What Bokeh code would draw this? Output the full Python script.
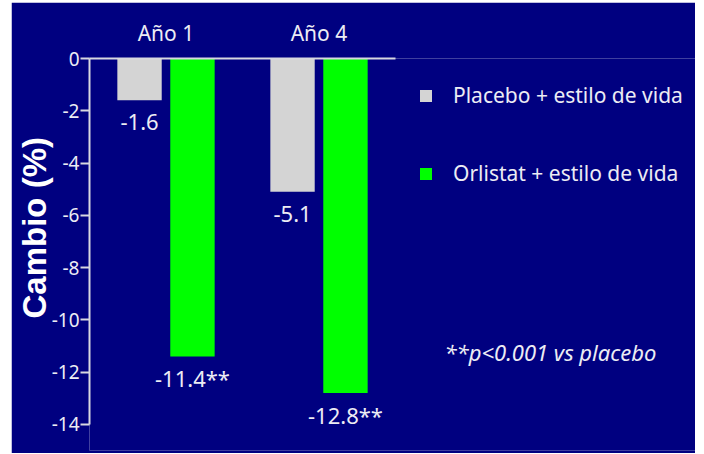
from bokeh.plotting import figure
from bokeh.models import (Range1d, FixedTicker, Legend, LegendItem, Label, Title,
                          ColumnDataSource)
from bokeh.core.properties import value
from bokeh.embed import file_html
from bokeh.resources import INLINE

# Weight change (%) by year of treatment
years = ["Año 1", "Año 4"]
series = ["Placebo + estilo de vida", "Orlistat + estilo de vida"]
placebo = [-1.6, -5.1]
orlistat = [-11.4, -12.8]
signif = ["", "**"]          # suffix per series
y_ticks = [0, -2, -4, -6, -8, -10, -12, -14]
note = "**p<0.001 vs placebo"

NAVY = "#000080"
FG = "#ececf4"
AXIS = "#d8d8e0"
COLORS = ["#d4d4d4", "#00ff00"]
FONT = "Noto Sans"

n = len(years)
frame_w, axis_w = 606, 306          # frame width vs. width used by the groups
bar_w = 0.29
dodge = 0.173

p = figure(width=684, height=451, output_backend="svg", toolbar_location=None,
           x_axis_location="above",
           x_range=Range1d(0, n * frame_w / axis_w), y_range=Range1d(-15, 0),
           background_fill_color=NAVY, border_fill_color=NAVY,
           min_border_left=78, min_border_right=0, min_border_top=56,
           min_border_bottom=3, outline_line_color=None)
p.margin = (2, 9, 1, 11)
p.grid.visible = False

# x axis on top doubles as the zero line
xa = p.xaxis[0]
xa.bounds = (0, n)
xa.ticker = FixedTicker(ticks=[i + 0.5 for i in range(n)])
xa.major_label_overrides = {i + 0.5: y for i, y in enumerate(years)}
xa.major_tick_out = 0
xa.major_tick_in = 0
xa.minor_tick_line_color = None
xa.axis_line_color = AXIS
xa.axis_line_width = 2
xa.major_label_text_color = FG
xa.major_label_text_font = FONT
xa.major_label_text_font_size = "21px"
xa.major_label_standoff = 12

ya = p.yaxis[0]
ya.bounds = (min(y_ticks), 0)
ya.ticker = FixedTicker(ticks=y_ticks)
ya.major_label_overrides = {t: str(t) for t in y_ticks}
ya.major_tick_out = 9
ya.major_tick_in = 0
ya.major_tick_line_color = AXIS
ya.major_tick_line_width = 2
ya.minor_tick_line_color = None
ya.axis_line_color = AXIS
ya.axis_line_width = 2
ya.major_label_text_color = FG
ya.major_label_text_font = FONT
ya.major_label_text_font_size = "19px"
ya.major_label_standoff = 1

p.add_layout(Title(text="Cambio (%)", align="left", offset=132, standoff=-8,
                   text_font="Liberation Sans", text_font_style="bold",
                   text_font_size="33px", text_color="white"), "left")

renderers = []
for k, (vals, color) in enumerate(zip([placebo, orlistat], COLORS)):
    xs = [i + 0.5 + (dodge if k else -dodge) for i in range(n)]
    src = ColumnDataSource(dict(
        x=xs, v=vals,
        lab=[f"{v:.1f}{signif[k]}" for v in vals]))
    r = p.vbar(x="x", top=0, bottom="v", width=bar_w, source=src,
               fill_color=color, line_color=None)
    renderers.append(r)
    p.text(x="x", y="v", text="lab", source=src, y_offset=22,
           text_align="center", text_baseline="middle",
           text_font=value(FONT), text_font_size="22px", text_color=FG)

legend = Legend(items=[LegendItem(label=s, renderers=[r])
                       for s, r in zip(series, renderers)],
                location=(329, 263), padding=0, margin=0, spacing=50,
                glyph_width=15, glyph_height=15, label_height=15,
                label_standoff=20, label_text_font=FONT,
                label_text_font_size="21px", label_text_color=FG,
                background_fill_alpha=0, border_line_alpha=0)
p.add_layout(legend)

p.add_layout(Label(x=2.32, y=-11.22, text=note, text_baseline="middle",
                   text_font=FONT, text_font_style="italic",
                   text_font_size="22px", text_color=FG))

open("out.html", "w").write(file_html(p, INLINE))
